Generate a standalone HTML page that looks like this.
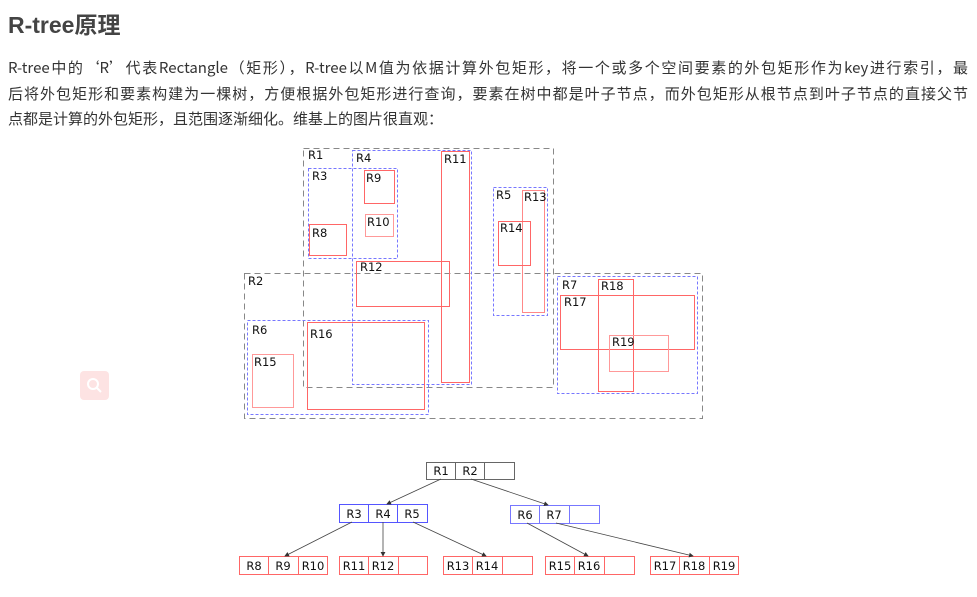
<!DOCTYPE html>
<html><head><meta charset="utf-8"><style>
body{margin:0;width:977px;height:597px;background:#fff;position:relative;overflow:hidden;font-family:"Liberation Sans","Noto Sans CJK SC",sans-serif;color:#333}
h1{position:absolute;left:8px;top:6px;margin:0;font-size:23px;font-weight:bold;color:#444}
.l{position:absolute;left:8px;width:960px;font-size:15px;white-space:nowrap;text-align:justify;text-align-last:justify;color:#333;font-family:"Noto Sans CJK SC",sans-serif;line-height:20px}
svg{position:absolute;left:0;top:0}
svg text{font-family:"DejaVu Sans",sans-serif;font-size:11.5px;fill:#111}
</style></head><body>
<h1>R-tree原理</h1>
<div class="l" style="top:58px">R-tree中的‘R’代表Rectangle（矩形），R-tree以M值为依据计算外包矩形，将一个或多个空间要素的外包矩形作为key进行索引，最</div>
<div class="l" style="top:84px">后将外包矩形和要素构建为一棵树，方便根据外包矩形进行查询，要素在树中都是叶子节点，而外包矩形从根节点到叶子节点的直接父节</div>
<div class="l" style="top:109px;width:auto;text-align-last:auto">点都是计算的外包矩形，且范围逐渐细化。维基上的图片很直观：</div>
<svg width="977" height="597">
<rect x="80" y="371" width="29" height="29" rx="4" fill="#fde3e3"/>
<circle cx="93" cy="384" r="5" fill="none" stroke="#fff" stroke-width="2"/>
<line x1="97" y1="388" x2="101" y2="392" stroke="#fff" stroke-width="2"/>
<g fill="none" stroke="#888" stroke-dasharray="6,4">
<rect x="303.5" y="148.5" width="250" height="239"/>
<rect x="244.5" y="273.5" width="458" height="145"/>
</g>
<g fill="none" stroke="#77f" stroke-dasharray="3,2">
<rect x="308.5" y="168.5" width="89" height="90"/>
<rect x="352.5" y="150.5" width="119" height="234"/>
<rect x="493.5" y="187.5" width="54" height="128"/>
<rect x="247.5" y="320.5" width="181" height="94"/>
<rect x="557.5" y="276.5" width="140" height="117"/>
</g>
<g fill="none" stroke="#f66">
<rect x="309.5" y="224.5" width="37" height="31"/>
<rect x="364.5" y="170.5" width="30" height="33"/>
<rect x="365.5" y="214.5" width="28" height="22" stroke="#f99"/>
<rect x="441.5" y="151.5" width="28" height="231"/>
<rect x="356.5" y="261.5" width="93" height="45"/>
<rect x="522.5" y="190.5" width="22" height="122" stroke="#f88"/>
<rect x="498.5" y="221.5" width="32" height="44"/>
<rect x="252.5" y="354.5" width="41" height="53" stroke="#f99"/>
<rect x="307.5" y="322.5" width="117" height="87"/>
<rect x="560.5" y="295.5" width="134" height="54"/>
<rect x="598.5" y="279.5" width="35" height="112"/>
<rect x="609.5" y="335.5" width="59" height="36" stroke="#f99"/>
</g>
<text x="308" y="159">R1</text><text x="248" y="285">R2</text>
<text x="312" y="180">R3</text><text x="356" y="162">R4</text>
<text x="496" y="199">R5</text><text x="252" y="334">R6</text>
<text x="562" y="289">R7</text><text x="312" y="237">R8</text>
<text x="366" y="182">R9</text><text x="367" y="226">R10</text>
<text x="444" y="163">R11</text><text x="360" y="271">R12</text>
<text x="524" y="201">R13</text><text x="500" y="232">R14</text>
<text x="254" y="366">R15</text><text x="310" y="338">R16</text>
<text x="564" y="306">R17</text><text x="601" y="290">R18</text>
<text x="612" y="346">R19</text>
<g fill="#fff">
<rect x="426.5" y="462.5" width="88" height="17" stroke="#666"/>
<line x1="455.5" y1="462" x2="455.5" y2="480" stroke="#666"/><line x1="484.5" y1="462" x2="484.5" y2="480" stroke="#666"/>
<rect x="339.5" y="504.5" width="88" height="18" stroke="#55f"/>
<line x1="368.5" y1="504" x2="368.5" y2="523" stroke="#55f"/><line x1="397.5" y1="504" x2="397.5" y2="523" stroke="#55f"/>
<rect x="510.5" y="505.5" width="89" height="18" stroke="#77f"/>
<line x1="539.5" y1="505" x2="539.5" y2="524" stroke="#77f"/><line x1="569.5" y1="505" x2="569.5" y2="524" stroke="#77f"/>
</g>
<g fill="none" stroke="#f66">
<rect x="239.5" y="556.5" width="88" height="18"/><line x1="268.5" y1="556" x2="268.5" y2="575"/><line x1="298.5" y1="556" x2="298.5" y2="575"/>
<rect x="339.5" y="556.5" width="88" height="18"/><line x1="368.5" y1="556" x2="368.5" y2="575"/><line x1="398.5" y1="556" x2="398.5" y2="575"/>
<rect x="443.5" y="556.5" width="89" height="18"/><line x1="472.5" y1="556" x2="472.5" y2="575"/><line x1="502.5" y1="556" x2="502.5" y2="575"/>
<rect x="545.5" y="556.5" width="89" height="18"/><line x1="574.5" y1="556" x2="574.5" y2="575"/><line x1="604.5" y1="556" x2="604.5" y2="575"/>
<rect x="650.5" y="556.5" width="88" height="18"/><line x1="679.5" y1="556" x2="679.5" y2="575"/><line x1="709.5" y1="556" x2="709.5" y2="575"/>
</g>
<defs><marker id="a" markerWidth="6" markerHeight="6" refX="5" refY="3" orient="auto"><path d="M0,0L6,3L0,6z" fill="#333"/></marker></defs>
<g stroke="#444" stroke-width="0.8" marker-end="url(#a)">
<line x1="441" y1="479" x2="387" y2="504"/>
<line x1="471" y1="479" x2="548" y2="505"/>
<line x1="352" y1="522" x2="285" y2="556"/>
<line x1="383" y1="522" x2="383" y2="556"/>
<line x1="413" y1="522" x2="486" y2="556"/>
<line x1="527" y1="523" x2="588" y2="556"/>
<line x1="556" y1="523" x2="693" y2="556"/>
</g>
<g text-anchor="middle">
<text x="441" y="475">R1</text><text x="470" y="475">R2</text>
<text x="354" y="518">R3</text><text x="383" y="518">R4</text><text x="412" y="518">R5</text>
<text x="525" y="519">R6</text><text x="554" y="519">R7</text>
<text x="254" y="570">R8</text><text x="283" y="570">R9</text><text x="313" y="570">R10</text>
<text x="354" y="570">R11</text><text x="383" y="570">R12</text>
<text x="458" y="570">R13</text><text x="487" y="570">R14</text>
<text x="560" y="570">R15</text><text x="589" y="570">R16</text>
<text x="665" y="570">R17</text><text x="694" y="570">R18</text><text x="724" y="570">R19</text>
</g>
</svg>
</body></html>
